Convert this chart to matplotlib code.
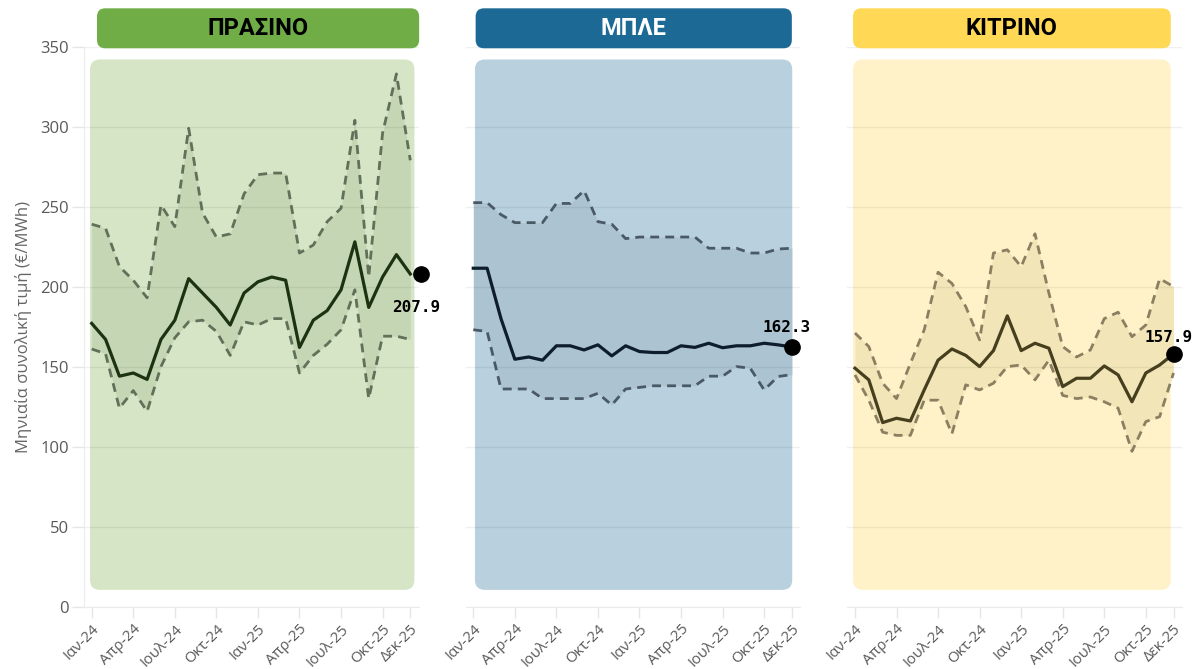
import numpy as np
import matplotlib
matplotlib.use('Agg')
import matplotlib.pyplot as plt
from matplotlib.patches import FancyBboxPatch

plt.rcParams['font.family'] = ['Open Sans', 'DejaVu Sans']

# Months Jan-24 .. Dec-25
months = np.arange(24)
tick_pos = [0, 3, 6, 9, 12, 15, 18, 21, 23]
tick_labels = ['Ιαν-24', 'Απρ-24', 'Ιουλ-24', 'Οκτ-24', 'Ιαν-25',
               'Απρ-25', 'Ιουλ-25', 'Οκτ-25', 'Δεκ-25']

# Monthly total price (€/MWh): median, upper and lower
green_mid = [177, 167, 144, 146, 142, 167, 179, 205, 196, 187, 176, 196,
             203, 206, 204, 162, 179, 185, 198, 228, 187, 206, 220, 207.9]
green_high = [239, 236.5, 212.5, 204, 193, 251, 237.5, 299, 246, 231, 233, 258,
              270, 271, 271, 221, 226, 240.6, 249, 304, 206, 296, 333, 279]
green_low = [161, 158, 124, 135, 122, 150, 168, 178, 179, 172, 157, 178,
             176, 180, 180, 146, 157, 164, 173, 198, 130, 169, 169, 167]

blue_mid = [211.5, 211.5, 180, 154.6, 156, 154, 163, 163, 160.4, 163.6, 156.7, 163,
            159.4, 158.8, 158.8, 163, 162, 164.6, 161.8, 163, 163, 164.6, 163.6, 162.3]
blue_high = [252.5, 252.5, 245, 240, 240, 240, 252, 252, 260, 240.6, 239, 230,
             231, 231, 231, 231, 231, 224, 224, 224, 221, 221, 223.5, 224]
blue_low = [173, 172, 136, 136, 136, 130, 130, 130, 130, 133.3, 126, 136,
            137, 138, 138, 138, 138, 144, 144, 150, 149, 135.4, 143.8, 145]

yellow_mid = [149, 141.7, 115, 117.7, 116, 135.4, 154, 161, 157, 150, 160, 181.7,
              160, 164.6, 161.5, 137.5, 142.7, 142.7, 150.4, 144.8, 128, 146, 151, 157.9]
yellow_high = [171, 162.5, 139.6, 130, 152, 173, 209, 202, 187.5, 166.7, 221, 223,
               212.5, 233, 196, 162.5, 156, 160.4, 180, 184, 168.7, 176, 205, 200]
yellow_low = [144.8, 129, 109, 107, 107, 129, 129, 108, 138.6, 135.4, 139.6, 150,
              151, 141.7, 154, 132, 130, 131, 128, 124, 97, 115.6, 118.7, 146]

panels = [
    dict(title='ΠΡΑΣΙΝΟ', mid=green_mid, high=green_high, low=green_low,
         head='#70ad47', head_txt='black', bg='#d5e5c6', band='#c4d6b3',
         solid='#1c3311', dash='#617059', left=0.0702,
         rect=(-0.12, 23.3), head_x=(0.38, 23.64), dot_dx=0.77,
         lab_off=(-3.6, -23.8)),
    dict(title='ΜΠΛΕ', mid=blue_mid, high=blue_high, low=blue_low,
         head='#1d6996', head_txt='white', bg='#b9d0de', band='#acc3d2',
         solid='#0d1d2b', dash='#4a5966', left=0.3887,
         rect=(0.12, 23.03), head_x=(0.17, 23.0), dot_dx=0.0,
         lab_off=(-3.6, 13.7)),
    dict(title='ΚΙΤΡΙΝΟ', mid=yellow_mid, high=yellow_high, low=yellow_low,
         head='#ffd955', head_txt='black', bg='#fff2c8', band='#f2e5b8',
         solid='#463f1e', dash='#8a8061', left=0.7073,
         rect=(-0.14, 22.8), head_x=(-0.14, 22.8), dot_dx=0.0,
         lab_off=(-3.6, 12.2)),
]

fig = plt.figure(figsize=(11.98, 6.69), dpi=100)
aspect = 13.85 / 1.6  # px per month / px per €/MWh

for k, p in enumerate(panels):
    ax = fig.add_axes([p['left'], 0.0934, 0.2792, 0.8368])
    ax.set_xlim(-0.55, 23.6)
    ax.set_ylim(0, 350)
    ax.set_axisbelow('line')

    # rounded panel background
    bg = FancyBboxPatch((p['rect'][0], 10.4), p['rect'][1] - p['rect'][0], 342 - 10.4,
                        boxstyle='round,pad=0,rounding_size=0.72',
                        mutation_aspect=aspect, fc=p['bg'], ec='none', zorder=0.5)
    ax.add_patch(bg)

    # header box
    hx0, hx1 = p['head_x']
    hd = FancyBboxPatch((hx0, 349), hx1 - hx0, 25,
                        boxstyle='round,pad=0,rounding_size=0.6',
                        mutation_aspect=aspect, fc=p['head'], ec='none',
                        zorder=3, clip_on=False)
    ax.add_patch(hd)
    ax.text((hx0 + hx1) / 2, 361.5, p['title'], ha='center', va='center',
            fontsize=17, fontweight='bold', family=['Roboto', 'DejaVu Sans'],
            color=p['head_txt'], zorder=4, clip_on=False)

    ax.fill_between(months, p['low'], p['high'], color=p['band'], lw=0, zorder=1.2)
    ax.plot(months, p['high'], color=p['dash'], lw=2.0, ls=(0, (3.2, 2.2)), zorder=2)
    ax.plot(months, p['low'], color=p['dash'], lw=2.0, ls=(0, (3.2, 2.2)), zorder=2)
    ax.plot(months, p['mid'], color=p['solid'], lw=2.3, zorder=2.5)

    last_x = months[-1] + p['dot_dx']
    last_y = p['mid'][-1]
    ax.plot([last_x], [last_y], 'o', color='black', ms=11, zorder=5, clip_on=False)
    ax.annotate(f'{last_y:.1f}', (last_x, last_y), xytext=p['lab_off'],
                textcoords='offset points', ha='center', va='center',
                fontsize=11.5, fontweight='bold', family='DejaVu Sans Mono',
                color='black', zorder=5, annotation_clip=False)

    ax.grid(axis='y', color='black', alpha=0.06, lw=1)
    ax.set_yticks(np.arange(0, 351, 50))
    ax.set_xticks(tick_pos)
    ax.set_xticklabels(tick_labels, rotation=45, ha='right', rotation_mode='anchor')
    ax.tick_params(axis='x', colors='#e6e6e6', labelcolor='#595959', labelsize=10.8,
                   length=8, width=1, pad=3)
    ax.set_facecolor('none')
    for s in ['top', 'right']:
        ax.spines[s].set_visible(False)
    ax.spines['bottom'].set_color('#ebebeb')
    if k == 0:
        ax.spines['left'].set_color('#ebebeb')
        ax.tick_params(axis='y', colors='#e6e6e6', labelcolor='#595959', labelsize=12,
                       length=9, width=1, pad=2)
        ax.set_ylabel('Μηνιαία συνολική τιμή (€/MWh)', color='#666666', fontsize=12,
                      labelpad=6)
    else:
        ax.spines['left'].set_visible(False)
        ax.tick_params(axis='y', left=False, labelleft=False)

fig.savefig('out.png', dpi=100)
